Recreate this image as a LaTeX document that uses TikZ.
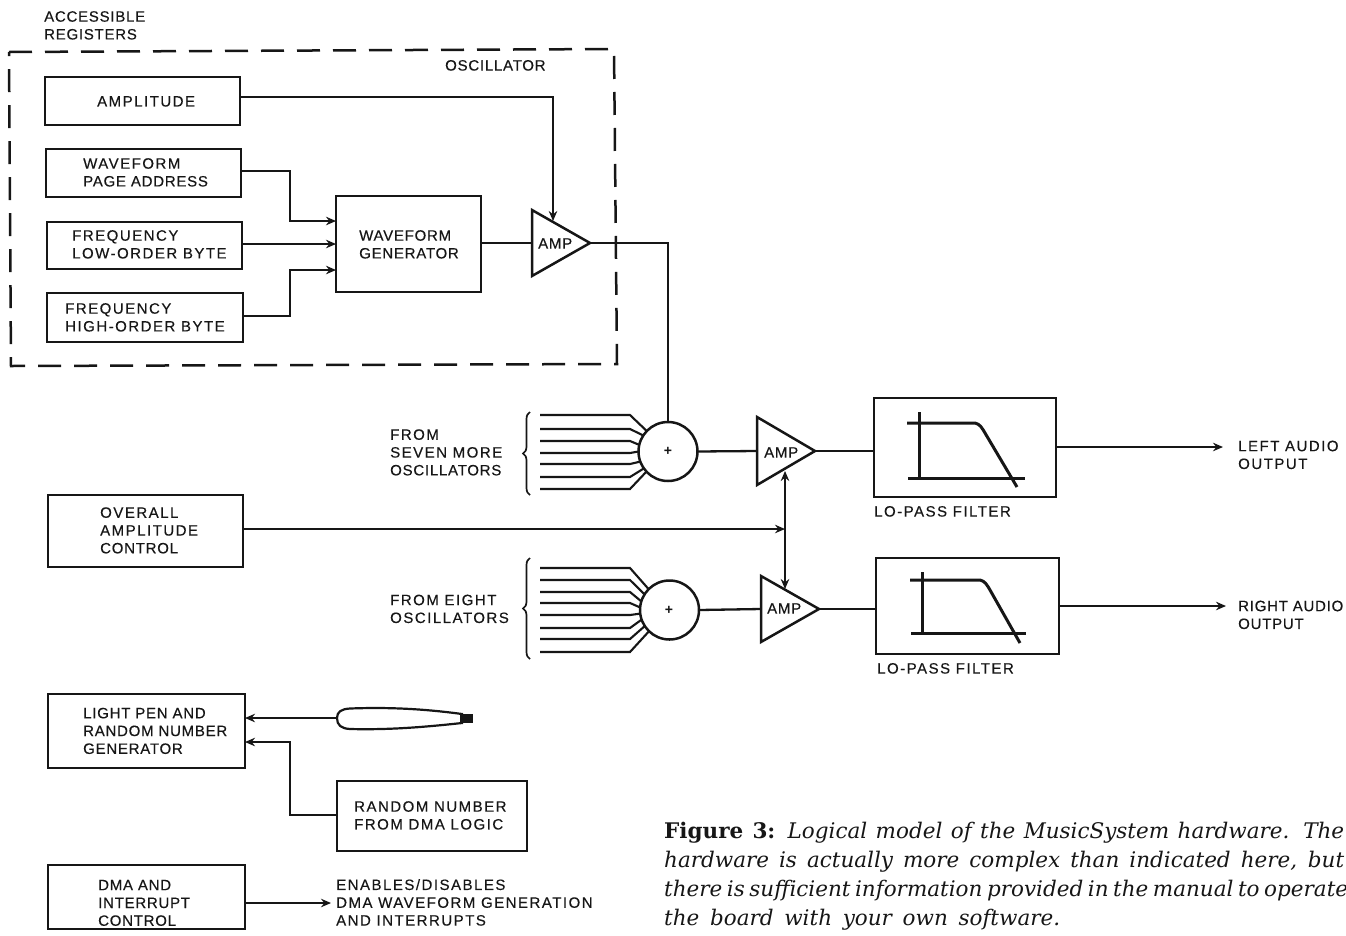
\documentclass[tikz,border=0pt]{standalone}
\usepackage{fontspec}
\setmainfont{Liberation Sans}
\newfontfamily\capserif{DejaVu Serif}
\newfontfamily\lblfont[LetterSpace=10,FakeBold=0.35]{Liberation Sans}
\newfontfamily\lbltight[LetterSpace=5,FakeBold=0.35]{Liberation Sans}
\usetikzlibrary{arrows.meta,shapes.geometric,decorations.pathreplacing}
\definecolor{ink}{HTML}{161616}
\tikzset{
  wire/.style={draw=ink,line width=2.3pt},
  arr/.style={wire,-{Stealth[length=10pt,width=8.5pt]}},
  boxn/.style={draw=ink,line width=2.5pt,rectangle,inner sep=0pt,outer sep=0pt},
  lbl/.style={text=ink,anchor=west,align=left,inner sep=0pt,yshift=-0.4pt,font=\lblfont\fontsize{15}{17.8}\selectfont},
  lblt/.style={lbl,font=\lbltight\fontsize{15}{17.8}\selectfont},
  amptri/.style={draw=ink,line width=2.5pt,isosceles triangle,isosceles triangle stretches,inner sep=0pt,outer sep=0pt,anchor=lower side,minimum height=58pt,minimum width=66pt},
  sumc/.style={draw=ink,line width=2.5pt,circle,inner sep=0pt,outer sep=0pt,minimum size=59pt},
  capt/.style={text=ink,anchor=west,inner sep=0pt,yshift=-1.5pt,font=\capserif\fontsize{21.5}{24}\selectfont}
}
\newcommand\bx[5]{%
  \pgfmathsetmacro\bxw{#4-#2}\pgfmathsetmacro\bxh{#5-#3}%
  \node[boxn,minimum width=\bxw pt,minimum height=\bxh pt] (#1) at ({(#2+#4)/2},{(#3+#5)/2}) {};}
\begin{document}
\begin{tikzpicture}[x=1pt,y=-1pt]
\useasboundingbox (0,0) rectangle (1346,935);
% oscillator enclosure
\coordinate (oa) at (9,52);\coordinate (ob) at (614,49);\coordinate (oc) at (617,364);\coordinate (od) at (11,366);
\draw[draw=ink,line width=2.5pt,dash pattern=on 23pt off 13pt] (oa) -- (ob) -- (oc) -- (od) -- cycle;
% boxes
\bx{ampl}{45}{77}{240}{125}
\bx{wpage}{46}{149}{241}{197}
\bx{flow}{47}{222}{242}{269}
\bx{fhigh}{47}{293}{243}{342}
\bx{wgen}{336}{196}{481}{292}
\bx{over}{48}{495}{243}{567}
\bx{lpf1}{874}{398}{1056}{497}
\bx{lpf2}{876}{558}{1059}{654}
\bx{lpen}{48}{694}{245}{768}
\bx{rnd}{337}{781}{527}{851}
\bx{dma}{48}{865}{245}{929}
% amps and summers
\node[amptri] (amp1) at (532,243) {};
\node[amptri,minimum width=68pt] (amp2) at (757,451) {};
\node[amptri] (amp3) at (761,609) {};
\node[sumc] (sum1) at (668,451.5) {};
\node[sumc] (sum2) at (669.5,610) {};
\node[text=ink,inner sep=0pt,font=\bfseries\fontsize{14}{14}\selectfont] (plus1) at (668,451.5) {+};
\node[text=ink,inner sep=0pt,font=\bfseries\fontsize{14}{14}\selectfont] (plus2) at (669,610) {+};
% labels
\node[lblt] (tacc) at (44,25) {ACCESSIBLE\\REGISTERS};
\node[lblt] (tosc) at (445,65) {OSCILLATOR};
\node[lbl] (tampl) at (97,101) {AMPLITUDE};
\node[lbl] (twp) at (83,172) {WAVEFORM\\{\lbltight PAGE ADDRESS}};
\node[lbl] (tfl) at (72,244) {FREQUENCY\\LOW-ORDER BYTE};
\node[lbl] (tfh) at (65,317) {FREQUENCY\\HIGH-ORDER BYTE};
\node[lblt] (tgen) at (359,244) {WAVEFORM\\GENERATOR};
\node[lblt] (ta1) at (538,243) {AMP};
\node[lblt] (ta2) at (764,452) {AMP};
\node[lblt] (ta3) at (767,608) {AMP};
\node[lbl] (tseven) at (390,452) {FROM\\SEVEN MORE\\{\lbltight OSCILLATORS}};
\node[lbl] (teight) at (390,608.5) {FROM EIGHT\\OSCILLATORS};
\node[lbl] (tover) at (100,530) {OVERALL\\AMPLITUDE\\{\lbltight CONTROL}};
\node[lbl] (tlp1) at (874,511) {LO-PASS FILTER};
\node[lbl] (tlp2) at (877,668) {LO-PASS FILTER};
\node[lbl] (tleft) at (1238,454.5) {LEFT AUDIO\\OUTPUT};
\node[lblt] (tright) at (1238,614.5) {RIGHT AUDIO\\OUTPUT};
\node[lblt] (tpen) at (83,730.5) {LIGHT PEN AND\\RANDOM NUMBER\\GENERATOR};
\node[lbl] (trnd) at (354,815) {RANDOM NUMBER\\FROM DMA LOGIC};
\node[lblt] (tdma) at (98,902.5) {DMA AND\\INTERRUPT\\CONTROL};
\node[lbl] (ten) at (336,902) {ENABLES/DISABLES\\DMA WAVEFORM GENERATION\\AND INTERRUPTS};
% caption
\node[capt] (c1) at (664,831) {\hbox to 680pt{{\bfseries Figure 3:} \itshape Logical model of the MusicSystem hardware. The}};
\node[capt] (c2) at (664,860) {\hbox to 680pt{\itshape hardware is actually more complex than indicated here, but}};
\node[capt] (c3) at (664,889) {\hbox to 680pt{\itshape there is sufficient information provided in the manual to operate}};
\node[capt] (c4) at (664,918) {\hbox to 396pt{\itshape the board with your own software.}};
% oscillator wiring
\coordinate (in1) at (553,221);
\draw[arr] (ampl.east |- 0,97) -| (in1);
\coordinate (g1) at (336,221);\coordinate (g2) at (336,244);\coordinate (g3) at (336,270);
\coordinate (v1) at (290,171);\coordinate (v3) at (290,316);
\draw[arr] (wpage.east |- v1) -- (v1) |- (g1);
\draw[arr] (flow.east |- g2) -- (g2);
\draw[arr] (fhigh.east |- v3) -- (v3) |- (g3);
\draw[wire] (wgen.east |- amp1.lower side) -- (amp1.lower side);
\coordinate (c1a) at (668,243);
\draw[wire] (amp1.apex) -- (c1a) -- (sum1.north);
% summers to amps to filters to outputs
\draw[wire] (sum1.east) -- (amp2.lower side);
\draw[wire] (sum2.east) -- (amp3.lower side);
\draw[wire] (amp2.apex) -- (lpf1.west |- amp2.apex);
\draw[wire] (amp3.apex) -- (lpf2.west |- amp3.apex);
\coordinate (o1) at (1223,447);\coordinate (o2) at (1226,606);
\draw[arr] (lpf1.east |- o1) -- (o1);
\draw[arr] (lpf2.east |- o2) -- (o2);
% overall amplitude
\coordinate (ju) at (785,529);\coordinate (ua) at (785,471);\coordinate (ub) at (785,589);
\draw[arr] (over.east |- ju) -- (ju);
\draw[wire,{Stealth[length=10pt,width=8.5pt]}-{Stealth[length=10pt,width=8.5pt]}] (ua) -- (ub);
% input bundles
\foreach \i/\yy/\aa in {1/415/136,2/429/147,3/441/167,4/453/180,5/464/200,6/477/215,7/489/223}{
  \coordinate (a\i) at (540,\yy);\coordinate (b\i) at (630,\yy);
  \draw[wire,line width=2.1pt] (a\i) -- (b\i) -- (sum1.\aa);}
\foreach \i/\yy/\aa in {1/568/135,2/580/148,3/592/163,4/603/175,5/615/187,6/628/199,7/639/213,8/652/226}{
  \coordinate (d\i) at (540,\yy);\coordinate (e\i) at (630,\yy);
  \draw[wire,line width=2.1pt] (d\i) -- (e\i) -- (sum2.\aa);}
\coordinate (br1a) at (530,495);\coordinate (br1b) at (530,412);
\coordinate (br2a) at (530,659);\coordinate (br2b) at (530,558);
\draw[draw=ink,line width=1.7pt,decorate,decoration={brace,amplitude=7pt,aspect=0.5}] (br1a) -- (br1b);
\draw[draw=ink,line width=1.7pt,decorate,decoration={brace,amplitude=7pt,aspect=0.5}] (br2a) -- (br2b);
% filter curves
\draw[wire,line width=3pt] (919,412) -- (919,478);
\draw[wire,line width=3pt] (908,478) -- (1025,478);
\draw[wire,line width=3pt,line join=round] (907,423) -- (975,423) .. controls (980,424) and (982,428) .. (985,433) -- (1017,487);
\draw[wire,line width=3pt] (922,572) -- (922,633);
\draw[wire,line width=3pt] (911,633) -- (1026,633);
\draw[wire,line width=3pt,line join=round] (910,580) -- (980,580) .. controls (985,581) and (987,585) .. (990,590) -- (1020,643);
% light pen
\coordinate (pen) at (337,718);
\draw[draw=ink,line width=2.2pt] (pen) .. controls (337,712) and (341,709) .. (350,708.5) .. controls (390,707) and (425,709) .. (462,714) -- (462,723) .. controls (425,727) and (390,730) .. (350,729) .. controls (341,728.5) and (337,725) .. (pen) -- cycle;
\fill[ink] (460,713.5) rectangle (473,723);
\draw[arr] (pen) -- (lpen.east |- pen);
\coordinate (r1) at (290,815);\coordinate (r2) at (245,742);
\draw[arr] (rnd.west |- r1) -- (r1) |- (r2);
% dma
\coordinate (dt) at (331,903);
\draw[arr] (dma.east |- dt) -- (dt);
\end{tikzpicture}
\end{document}
